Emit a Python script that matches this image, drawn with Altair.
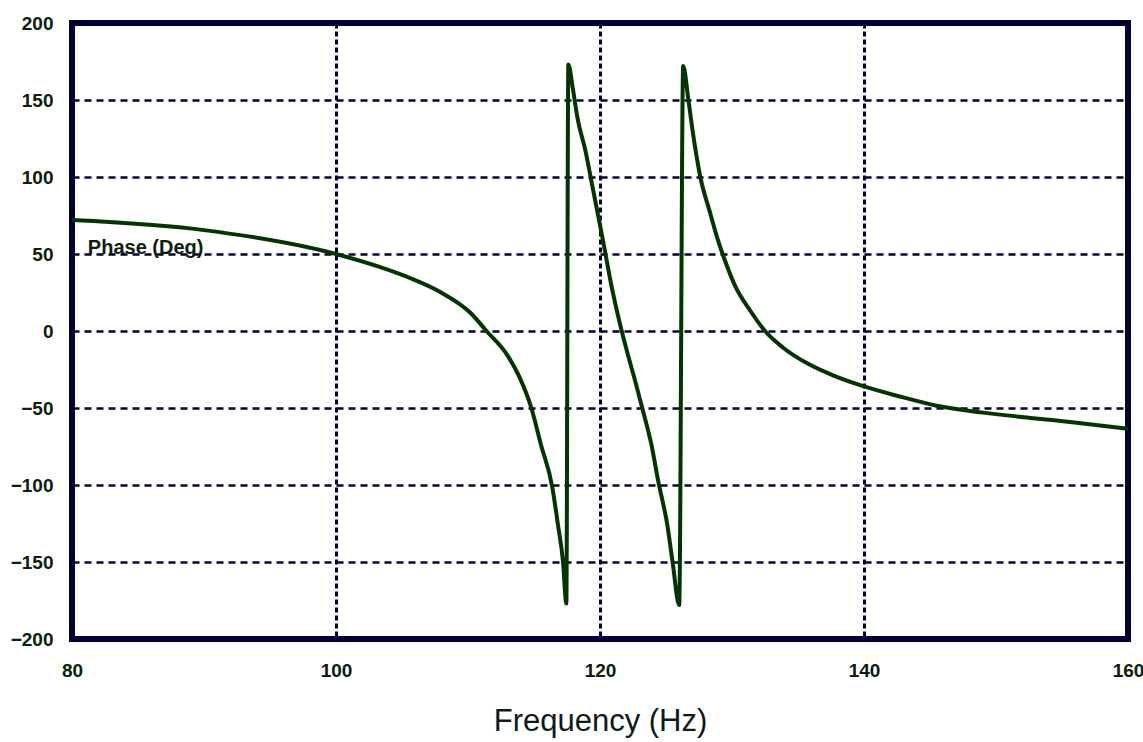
import altair as alt
import pandas as pd

freq = [80, 90, 100, 103.3, 105.6, 107.9, 110.2, 111.4, 113.0, 113.9, 114.8, 115.5,
        116.4, 116.8, 117.2, 117.45, 117.6, 117.95, 118.3, 118.9, 119.4, 120.2, 120.9,
        121.5, 122.1, 122.65, 123.2, 123.9, 124.4, 125.1, 125.5, 126.0, 126.3, 126.7,
        127.0, 127.6, 128.3, 128.9, 129.5, 130.2, 131.4, 132.5, 133.9, 135.7, 137.7,
        140.0, 142.7, 145.5, 149.0, 152.8, 156.6, 160.0]
phase = [72, 65.5, 50, 41.6, 34.4, 25.3, 11.7, 0, -16, -30, -50, -73,
         -102, -125, -150, -177, 173, 157, 138, 117, 95, 60, 28,
         5, -15, -32, -50, -74, -97, -126, -150, -178, 172, 150,
         131, 100, 78, 60, 45, 30, 13, 0, -11, -21, -29,
         -36, -42.5, -48.5, -53, -56.6, -60, -63.5]

x_ticks = [80, 100, 120, 140, 160]
y_ticks = [-200, -150, -100, -50, 0, 50, 100, 150, 200]

label_text = ["Phase (Deg)"]
label_x = [81.2]
label_y = [54]

df = pd.DataFrame({"f": freq, "p": phase, "order": list(range(len(freq)))})
lab = pd.DataFrame({"t": label_text, "x": label_x, "y": label_y})

xs = alt.Scale(domain=[80, 160], nice=False, zero=False)
ys = alt.Scale(domain=[-200, 200], nice=False, zero=False)

line = alt.Chart(df).mark_line(color="#023502", strokeWidth=4, clip=True,
                               interpolate="monotone").encode(
    x=alt.X("f:Q", scale=xs, title="Frequency (Hz)",
            axis=alt.Axis(values=x_ticks, grid=True, gridDash=[5, 3], gridWidth=3,
                          gridColor="#000033", domain=False, ticks=False,
                          labelPadding=22, labelFontSize=19, labelFontWeight="bold",
                          labelFont="Liberation Sans", labelColor="#0b200b",
                          labelOverlap=False, labelBound=False, labelFlush=False,
                          titleFont="Liberation Sans", titleFontSize=31,
                          titleFontWeight="normal", titleColor="#0d1a1a",
                          titlePadding=26)),
    y=alt.Y("p:Q", scale=ys, title=None,
            axis=alt.Axis(values=y_ticks, grid=True, gridDash=[7, 5], gridWidth=2.5,
                          gridColor="#000033", domain=False, ticks=False,
                          labelPadding=19, labelFontSize=19, labelFontWeight="bold",
                          labelFont="Liberation Sans", labelColor="#0b200b",
                          labelOverlap=False, labelBound=False, labelFlush=False)),
    order="order:Q",
)

text = alt.Chart(lab).mark_text(align="left", baseline="middle", fontSize=20,
                                fontWeight="bold", font="Liberation Sans",
                                color="#0b200b").encode(
    x=alt.X("x:Q", scale=xs), y=alt.Y("y:Q", scale=ys), text="t:N")

chart = alt.layer(line, text).properties(
    width=1056, height=616,
    autosize=alt.AutoSizeParams(type="none"),
    padding={"left": 72, "top": 23, "right": 15, "bottom": 103},
    background="white",
).configure_view(stroke="#000033", strokeWidth=6)

chart.save("out.html", embed_options={"renderer": "svg", "actions": False})
